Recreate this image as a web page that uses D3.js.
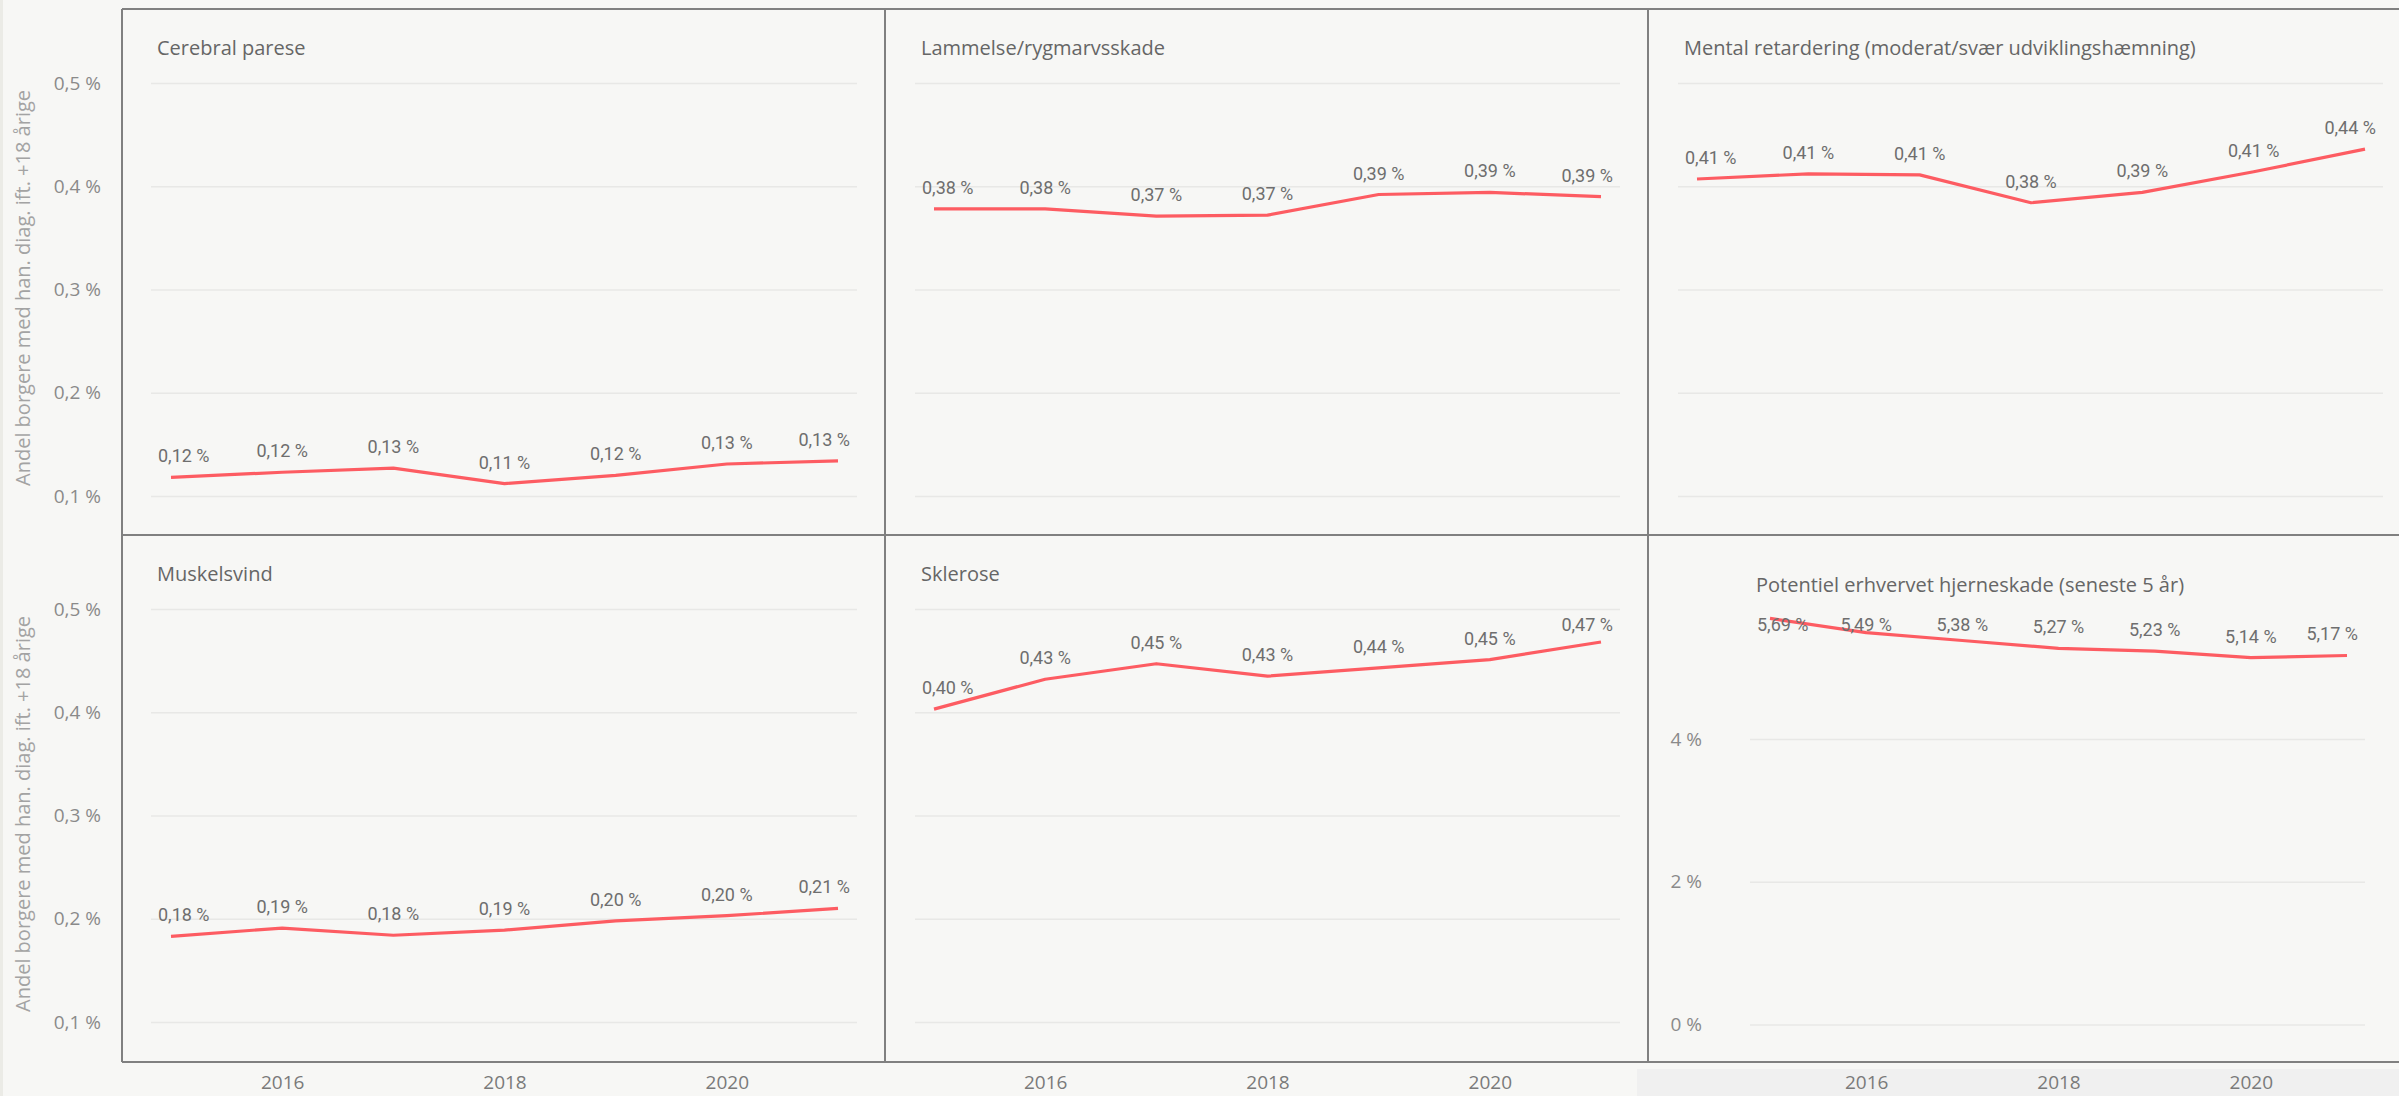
<!DOCTYPE html>
<html>
<head>
<meta charset="utf-8">
<script src="https://cdn.jsdelivr.net/npm/d3@7"></script>
<style>
  body { margin: 0; background: #f7f7f5; }
  svg { display: block; }
</style>
</head>
<body>
<div id="chart"></div>
<script>
// data
const years = [2015, 2016, 2017, 2018, 2019, 2020, 2021];
const xTicks = [2016, 2018, 2020];

const titles = [
  "Cerebral parese",
  "Lammelse/rygmarvsskade",
  "Mental retardering (moderat/svær udviklingshæmning)",
  "Muskelsvind",
  "Sklerose",
  "Potentiel erhvervet hjerneskade (seneste 5 år)"
];

const cerebral  = [0.118, 0.123, 0.127, 0.112, 0.120, 0.131, 0.134];
const lammelse  = [0.378, 0.378, 0.371, 0.372, 0.392, 0.394, 0.390];
const mental    = [0.407, 0.412, 0.411, 0.384, 0.394, 0.414, 0.436];
const muskel    = [0.183, 0.191, 0.184, 0.189, 0.198, 0.203, 0.210];
const sklerose  = [0.403, 0.432, 0.447, 0.435, 0.443, 0.451, 0.468];
const hjerne    = [5.69, 5.49, 5.38, 5.27, 5.23, 5.14, 5.17];

const smallTicks = [0.1, 0.2, 0.3, 0.4, 0.5];
const bigTicks = [0, 2, 4];

const yTitle = "Andel borgere med han. diag. ift. +18 årige";

const W = 2399, H = 1096;
const lineColor = "#fd5c62";

const loc = d3.formatLocale({decimal: ",", thousands: ".", grouping: [3], currency: ["", " kr."]});
const f1 = loc.format(".1f"), f2 = loc.format(".2f"), f0 = loc.format("d");

const svg = d3.select("#chart").append("svg")
    .attr("width", W)
    .attr("height", H);

svg.append("rect").attr("width", W).attr("height", H).attr("fill", "#f7f7f5");
// thin left strip and the darker strip under the right column
svg.append("rect").attr("x", 0).attr("y", 0).attr("width", 3).attr("height", H).attr("fill", "#ebebe6");
svg.append("rect").attr("x", 1637).attr("y", 1069).attr("width", W - 1637).attr("height", H - 1069).attr("fill", "#f0f0f0");

const rows = [9, 535];
// layout of the six panels
const panels = [
  {title: titles[0], values: cerebral, row: 0, grid: [151, 857],  pts: [171, 838],  big: false, yLabels: true},
  {title: titles[1], values: lammelse, row: 0, grid: [915, 1620], pts: [934, 1601], big: false, yLabels: false},
  {title: titles[2], values: mental,   row: 0, grid: [1678, 2383], pts: [1697, 2365], big: false, yLabels: false},
  {title: titles[3], values: muskel,   row: 1, grid: [151, 857],  pts: [171, 838],  big: false, yLabels: true, xAxis: true},
  {title: titles[4], values: sklerose, row: 1, grid: [915, 1620], pts: [934, 1601], big: false, yLabels: false, xAxis: true},
  {title: titles[5], values: hjerne,   row: 1, grid: [1750, 2365], pts: [1770, 2347], big: true, yLabels: true, xAxis: true}
];

panels.forEach(function(p) {
  const t = rows[p.row];
  const x = d3.scaleLinear().domain(d3.extent(years)).range(p.pts);
  const y = p.big
    ? d3.scaleLinear().domain([0, 4]).range([t + 489.5, t + 204])
    : d3.scaleLinear().domain([0.1, 0.5]).range([t + 487, t + 74]);

  const g = svg.append("g");

  // gridlines + y labels
  const yAxis = d3.axisLeft(y)
      .tickValues(p.big ? bigTicks : smallTicks)
      .tickSize(-(p.grid[1] - p.grid[0]))
      .tickPadding(p.big ? 48 : 50)
      .tickFormat(p.yLabels ? (p.big ? d => f0(d) + " %" : d => f1(d) + " %") : "");

  const ya = g.append("g")
      .attr("transform", `translate(${p.grid[0]},0)`)
      .call(yAxis);
  ya.select(".domain").remove();
  ya.selectAll("line").attr("stroke", "#e8e8e6").attr("stroke-width", 1.5);
  ya.selectAll("text")
      .attr("fill", "#8a8a8a")
      .style("font-family", "'Segoe UI', 'Open Sans', sans-serif")
      .style("font-size", "19px");

  // title
  g.append("text")
      .attr("x", p.grid[0] + 6)
      .attr("y", t + (p.big ? 57 : 46))
      .attr("fill", "#666")
      .style("font-family", "'Segoe UI', 'Open Sans', sans-serif")
      .style("font-size", "20px")
      .text(p.title);

  // line
  const line = d3.line()
      .x((d, i) => x(years[i]))
      .y(d => y(d));

  g.append("path")
      .datum(p.values)
      .attr("d", line)
      .attr("fill", "none")
      .attr("stroke", lineColor)
      .attr("stroke-width", 3.2)
      .attr("stroke-linejoin", "round");

  // data labels
  g.selectAll(".lbl")
      .data(p.values)
      .enter()
      .append("text")
      .attr("class", "lbl")
      .attr("text-anchor", "middle")
      .attr("fill", "#6e6e6e")
      .style("font-family", "Roboto, sans-serif")
      .style("font-size", "18px")
      .text(d => f2(d) + " %")
      .attr("y", d => Math.max(y(d) - 15, t + 96))
      .attr("x", function(d, i) {
        const w = this.getComputedTextLength();
        const cx = x(years[i]);
        return Math.min(Math.max(cx, p.grid[0] + 7 + w / 2), p.grid[1] - 7 - w / 2);
      });

  // x axis under bottom row
  if (p.xAxis) {
    const xa = svg.append("g")
        .attr("transform", `translate(0,1062)`)
        .call(d3.axisBottom(x).tickValues(xTicks).tickSize(0).tickPadding(14).tickFormat(d3.format("d")));
    xa.select(".domain").remove();
    xa.selectAll("text")
        .attr("fill", "#7a7a7a")
        .style("font-family", "'Segoe UI', 'Open Sans', sans-serif")
        .style("font-size", "19px");
  }
});

// y axis titles
rows.forEach(function(t) {
  svg.append("text")
      .attr("transform", `translate(30,${t + 279}) rotate(-90)`)
      .attr("text-anchor", "middle")
      .attr("fill", "#a3a3a3")
      .style("font-family", "'Segoe UI', 'Open Sans', sans-serif")
      .style("font-size", "20px")
      .text(yTitle);
});

// panel borders
const border = "#808080";
const hLines = [9, 535, 1062];
const vLines = [122, 885, 1648];
svg.selectAll(".hb").data(hLines).enter().append("line")
    .attr("x1", 122).attr("x2", W)
    .attr("y1", d => d).attr("y2", d => d)
    .attr("stroke", border).attr("stroke-width", 2);
svg.selectAll(".vb").data(vLines).enter().append("line")
    .attr("x1", d => d).attr("x2", d => d)
    .attr("y1", 9).attr("y2", 1062)
    .attr("stroke", border).attr("stroke-width", 2);
</script>
</body>
</html>
